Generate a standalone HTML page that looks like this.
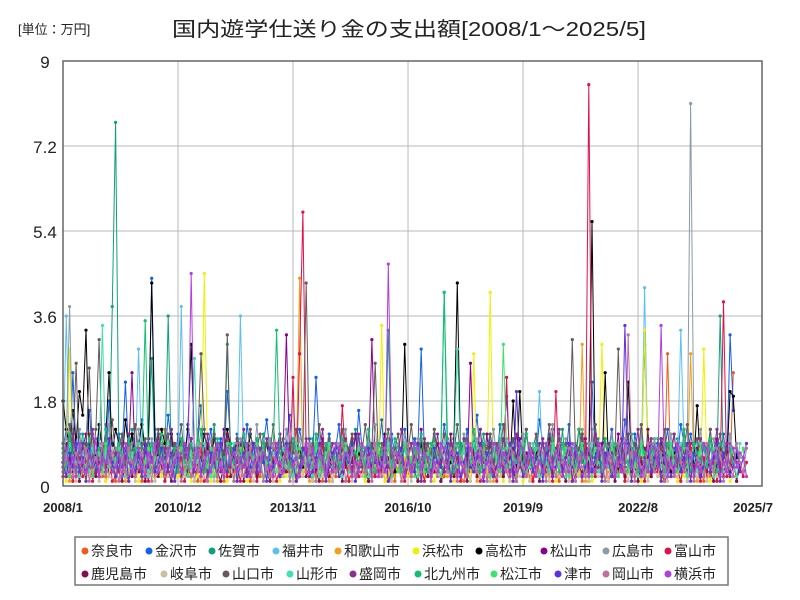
<!DOCTYPE html>
<html><head><meta charset="utf-8">
<style>
body{margin:0;background:#fff;width:800px;height:600px;overflow:hidden;font-family:"Liberation Sans","Noto Sans CJK JP",sans-serif}
svg{display:block}
</style></head><body>
<svg id="c" width="800" height="600" xmlns="http://www.w3.org/2000/svg">
<text x="18" y="34" font-size="13" fill="#222" font-family="Liberation Sans,Noto Sans CJK JP,sans-serif">[単位：万円]</text>
<text x="172" y="36" font-size="20" fill="#222" font-family="Liberation Sans,Noto Sans CJK JP,sans-serif" textLength="474" lengthAdjust="spacingAndGlyphs">国内遊学仕送り金の支出額[2008/1～2025/5]</text>
<g id="grid"></g><g id="series"></g><g id="axes"></g><g id="legend"></g>
</svg>
<script>
const xLabels=["2008/1","2010/12","2013/11","2016/10","2019/9","2022/8","2025/7"];
const yTicks=[0,1.8,3.6,5.4,7.2,9];
const names=["奈良市","金沢市","佐賀市","福井市","和歌山市","浜松市","高松市","松山市","広島市","富山市","鹿児島市","岐阜市","山口市","山形市","盛岡市","北九州市","松江市","津市","岡山市","横浜市"];
const colors=["#f05a1e","#1560e8","#10a078","#5bc0f0","#f0a020","#f0f000","#000000","#8a0090","#8a9aa8","#e0104a","#801050","#c8c0a0","#665a5a","#40e0b0","#8a3090","#10c070","#40e070","#6030e0","#c070a0","#b040e0"];
const s0=[.3,.5,.2,.8,.4,.1,.6,.3,1.1,.2,.4,.7,.2,.3,.9,.5,.1,.4,.6,.2,.3,.8,.2,.5,.1,.3,.7,.4,.2,.6,.3,1.2,.2,.4,.1,.5,.3,.8,.2,.4,.6,.1,.3,.5,.9,.2,.4,.3,.7,.1,.5,.2,.4,.8,.3,.2,.6,.1,.3,.5,.2,.9,.4,.3,.1,.6,.2,.4,.7,.3,.5,.1,.2,.8,.4,.3,.6,.2,.5,.1,.4,.3,.7,.2,.5,.9,.1,.3,.4,.6,.2,.3,.5,.1,.8,.2,.4,.6,.3,.2,.5,.1,.7,.3,.4,.2,.6,.3,.1,.5,.9,.2,.4,.3,.6,.1,.2,.5,.3,.8,.4,.2,.1,.6,.3,.5,.2,.4,.7,.1,.3,.2,.5,.8,.4,.3,.1,.6,.2,.4,.3,.5,.2,.1,.7,.3,.4,.6,.2,.5,.3,.1,.4,.8,.2,.3,.6,.4,.1,.5,.2,.3,.7,.4,.2,.6,.1,.3,.5,.2,.4,1.0,.3,.2,.5,.1,.4,.6,.3,.2,.7,.4,.1,.3,2.8,.2,.5,.4,.1,.6,.3,.2,.4,.5,.3,.1,.6,.2,.4,.3,.5,.2,.8,.3,2.4];
const s1=[.8,1.2,.5,2.4,.7,1.1,.4,.9,1.6,.6,.3,1.3,.8,.5,1.8,.9,.4,1.1,.7,2.2,.6,1.0,.5,.8,1.4,.7,.9,4.4,1.2,.5,.8,.6,1.5,.9,.4,1.1,.7,.5,1.3,.8,.6,.9,1.7,.5,.8,1.2,.4,.7,1.0,.6,2.0,.9,.5,1.1,.7,.4,1.3,.8,.6,1.0,.5,.9,1.4,.7,.4,.8,1.1,.6,.9,1.5,.5,.7,1.2,.8,.4,1.0,.6,2.3,.9,.5,.7,1.1,.6,.8,1.3,.4,.9,.7,1.0,.5,1.6,.8,.6,1.2,.4,.9,.7,1.4,.5,.8,1.1,.6,.9,.4,1.2,.7,.5,1.0,.8,2.9,.6,.9,.4,1.1,.7,.5,1.3,.8,.6,1.0,.4,.9,.7,1.2,.5,.8,1.5,.6,.9,.4,1.1,.7,.5,1.3,.8,1.9,.6,1.0,.4,.9,.7,1.2,.5,.8,.6,1.4,.9,.4,1.1,.7,.5,1.0,.8,.6,1.3,.4,.9,.7,1.1,.5,.8,2.2,.6,1.0,.4,.9,.7,1.2,.5,.8,.6,1.4,.9,.4,1.1,.7,.5,3.0,.8,.6,1.0,.4,.9,.7,1.2,.5,.8,.6,1.3,.9,.4,1.1,.7,.5,1.0,.8,.6,1.2,.4,.9,.7,1.1,.5,3.2,1.6];
const s2=[.4,.6,.3,.9,.5,.7,1.1,.4,.6,.8,.3,1.0,.5,.7,.4,3.8,7.7,.6,.4,.8,.5,1.2,.3,.7,.6,.4,.9,2.7,.5,.8,.3,.6,3.6,.4,.7,.5,.9,.3,.6,1.0,.4,.7,.5,.8,.3,.6,1.3,.4,.7,.5,3.0,.6,.4,.8,.5,.7,.3,.9,.6,.4,.7,1.1,.5,.3,.8,.6,.4,.7,.5,.9,.3,.6,.8,.4,.7,.5,1.0,.3,.6,.4,.8,.5,.7,.3,.9,.6,.4,.7,.5,1.2,.3,.6,.8,.4,.7,.5,.9,.3,.6,3.3,.4,.8,.5,.7,.3,.6,.9,.4,.7,.5,.8,.3,.6,1.0,.4,.7,4.1,.5,.8,.3,.6,.9,.4,.7,.5,.8,.3,.6,1.1,.4,.7,.5,.9,.3,.6,.8,.4,.7,.5,1.0,.3,.6,.4,.8,.5,.7,.3,.9,.6,.4,.7,.5,1.2,.3,.6,.8,.4,.7,.5,.9,.3,.6,1.0,.4,.8,.5,.7,.3,.6,.9,.4,.7,.5,.8,.3,.6,1.1,.4,.7,.5,.9,.3,.6,.8,.4,.7,.5,1.0,.3,.6,.4,.8,.5,.7,.3,.9,.6,.4,.7,.5,3.6,.3,.6,.8,.4];
const s3=[.6,3.6,.4,.9,.5,.3,.7,.4,1.0,.5,.3,.8,.6,.4,.7,.3,.5,.9,.4,.6,.3,.8,.5,2.9,.4,.7,.3,.6,.5,.9,.4,.3,.7,.5,.6,.4,3.8,.3,.7,.5,.8,.4,.6,.3,.9,.5,.4,.7,.3,.6,.5,.8,.4,.3,3.6,.5,.7,.4,.6,.3,.8,.5,.4,.9,.3,.6,.5,.7,.4,.3,.8,.5,.6,.4,.7,.3,.5,.9,.4,.6,.3,.8,.5,.4,.7,.3,.6,.5,1.0,.4,.3,.7,.5,.6,.4,.8,.3,.5,.9,.4,.6,.3,.7,.5,.4,.8,.3,.6,.5,.9,.4,.3,.7,.5,.6,.4,.8,.3,.5,1.1,.4,.6,.3,.7,.5,.4,.8,.3,.6,.5,.9,.4,.3,.7,.5,.6,.4,.8,.3,.5,1.0,.4,.6,.3,.7,2.0,.4,.8,.3,.6,.5,.9,.4,.3,.7,.5,.6,.4,.8,.3,.5,1.2,.4,.6,.3,.7,.5,.4,.8,.3,.6,.5,.9,.4,.3,.7,.5,4.2,.4,.8,.3,.5,1.0,.4,.6,.3,.7,.5,3.3,.8,.3,.6,.5,.9,.4,.3,.7,.5,.6,.4,.8,.3,.5,1.1,.4];
const s4=[.2,.4,.1,.6,.3,.2,.5,.1,.4,.3,.7,.2,.4,.1,.5,.3,.2,.6,.4,.1,.3,.5,.2,.4,.8,.1,.3,.5,.2,.6,.4,.1,.3,.2,.5,.4,.1,.7,.3,.2,.4,.5,.1,.3,.6,.2,.4,.1,.5,.3,.2,.8,.4,.1,.3,.5,.2,.4,.6,.1,.3,.2,.5,.4,.1,.7,.3,.2,.4,.5,.1,.3,4.4,.2,.4,.1,.5,.3,.2,.6,.4,.1,.3,.5,.2,.4,.7,.1,.3,.2,.5,.4,.1,.6,.3,.2,.4,.5,.1,.3,.8,.2,.4,.1,.5,.3,.2,.6,.4,.1,.3,.5,.2,.4,.7,.1,.3,.2,.5,.4,.1,.6,.3,.2,.4,.5,.1,.3,.9,.2,.4,.1,.5,.3,.2,.6,.4,.1,.3,.5,.2,.4,.7,.1,.3,.2,.5,.4,.1,.6,.3,.2,.4,.5,.1,.3,.8,.2,3.0,.1,.5,.3,.2,.6,.4,.1,.3,.5,.2,.4,.7,.1,.3,.2,.5,.4,.1,.6,.3,.2,.4,.5,.1,.3,.9,.2,.4,.1,.5,.3,.2,2.8,.4,.1,.3,.5,.2,.4,.7,.1,.3];
const s5=[.3,.1,2.9,.4,.2,.6,.3,.1,.5,.2,.4,.3,.7,.1,.2,.5,.3,.4,.1,.6,.2,.3,.5,.1,.4,.2,.8,.3,.1,.5,.2,.4,.3,.6,.1,.2,.5,.3,.4,.1,.7,.2,.3,4.5,.5,.1,.4,.2,.6,.3,.1,.5,.2,.4,.3,.8,.1,.2,.5,.3,.4,.1,.6,.2,.3,.5,.1,.4,.2,.7,.3,.1,.5,.2,.4,.3,.6,.1,.2,.5,.3,.4,.1,.8,.2,.3,.5,.1,.4,.2,.6,.3,.1,.5,.2,.4,.3,3.4,.1,.2,.5,.3,.4,.1,.6,.2,.3,.5,.1,.4,.2,.8,.3,.1,.5,.2,.4,.3,.6,.1,.2,.5,.3,.4,.1,2.8,.2,.3,.5,.1,4.1,.2,.6,.3,.1,.5,.2,.4,.3,.7,.1,.2,.5,.3,.4,.1,.6,.2,.3,.5,.1,.4,.2,.8,.3,.1,.5,.2,.4,.3,.6,.1,.2,.5,3.0,.4,.1,.7,.2,.3,.5,.1,.4,.2,.6,.3,.1,3.3,.2,.4,.3,.8,.1,.2,.5,.3,.4,.1,.6,.2,.3,.5,.1,.4,.2,2.9,.3,.1,.5,.2,.4,.3,.6,.1,.2];
const s6=[1.8,1.2,.8,1.6,.9,2.0,1.5,3.3,.7,1.1,.6,1.3,.8,1.0,2.4,.7,1.2,.9,.5,1.4,.8,1.1,.6,.9,1.3,.7,1.0,4.3,.8,.6,1.2,.9,.7,1.1,.5,.8,1.0,.6,1.2,3.0,.7,.9,.5,1.1,.8,.6,1.0,.7,.9,.5,1.2,.8,.6,1.0,.7,.9,.5,1.1,.8,.6,.4,.7,.9,.5,.8,.6,.4,.7,.5,.9,.3,.6,.8,.4,.7,.5,.6,.3,.8,.4,.5,.7,.3,.6,.4,.8,.5,.3,.6,.4,.7,.5,.3,.6,.4,.8,.3,.5,1.1,.4,.6,.3,.7,.5,3.0,.8,.3,.6,.5,.9,.4,.3,.7,.5,.6,.4,.8,.3,.5,1.0,4.3,.6,.3,.7,.5,.4,.8,.3,.6,.5,.9,.4,.3,.7,.5,.6,.4,1.8,.3,2.0,.5,.4,.6,.3,.7,.5,.4,.8,.3,.6,.5,.9,.4,.3,.7,.5,.6,1.2,.8,.3,.5,5.6,.4,.6,.3,2.4,.5,.4,.8,.3,.6,.5,2.2,.4,.3,.7,.5,.6,.4,.8,.3,.5,1.0,.4,.6,.3,.7,.5,.4,.8,.3,.6,.5,1.7,.4,.3,.7,.5,.6,.4,.8,.3,.5,2.0,1.9,.6];
const s7=[.5,.9,.3,1.2,.6,.4,.8,1.1,.3,.7,.5,.9,.4,1.3,.6,.3,.8,.5,1.0,.4,.7,2.4,.5,.3,.9,.6,.4,.8,.5,1.1,.3,.7,.4,.6,.9,.5,.3,.8,.6,1.0,.4,.7,.5,.3,.9,.6,.4,.8,.5,1.2,.3,.7,.4,.6,.9,.5,.3,.8,.6,1.0,.4,.7,.5,.3,.9,.6,.4,.8,3.2,.5,.3,.7,.4,.6,.9,.5,.3,.8,.6,1.0,.4,.7,.5,.3,.9,.6,.4,.8,.5,1.1,.3,.7,.4,.6,3.1,.5,.3,.8,.6,1.0,.4,.7,.5,.3,.9,.6,.4,.8,.5,1.2,.3,.7,.4,.6,.9,.5,.3,.8,.6,1.0,.4,.7,.5,.3,2.6,.6,.4,.8,.5,1.1,.3,.7,.4,.6,.9,.5,.3,.8,.6,1.0,.4,.7,.5,.3,.9,.6,.4,.8,.5,1.2,.3,.7,.4,.6,.9,.5,.3,.8,.6,1.0,.4,.7,.5,.3,.9,.6,.4,.8,.5,1.1,.3,.7,.4,.6,.9,.5,.3,.8,.6,1.0,.4,.7,.5,.3,.9,.6,.4,.8,.5,1.2,.3,.7,.4,.6,.9,.5,.3,.8,.6,1.0,.4,.7];
const s8=[.7,1.0,3.8,.6,.9,1.2,.5,.8,.4,1.1,.7,.5,.9,.6,1.3,.4,.8,.6,1.0,.5,.7,.9,.4,1.2,.6,.8,.5,1.0,.7,.4,.9,.6,1.1,.5,.8,.4,1.0,.7,.6,.9,.5,1.2,.4,.8,.6,1.0,.5,.7,.9,.4,1.1,.6,.8,.5,1.0,.7,.4,.9,.6,1.3,.5,.8,.4,1.0,.7,.6,.9,.5,1.2,.4,.8,.6,1.0,.5,.7,.9,.4,1.1,.6,.8,.5,1.0,.7,.4,.9,.6,1.2,.5,.8,.4,1.0,.7,.6,.9,.5,1.3,.4,.8,.6,1.0,.5,.7,.9,.4,1.1,.6,.8,.5,1.0,.7,.4,.9,.6,1.2,.5,.8,.4,1.0,.7,.6,.9,.5,1.1,.4,.8,.6,1.0,.5,.7,.9,.4,1.2,.6,.8,.5,1.0,.7,.4,.9,.6,1.1,.5,.8,.4,1.0,.7,.6,.9,.5,1.3,.4,.8,.6,1.0,.5,.7,.9,.4,1.2,.6,.8,.5,1.0,.7,.4,.9,.6,1.1,.5,.8,.4,1.0,.7,.6,.9,.5,1.2,.4,.8,.6,1.0,.5,.7,.9,.4,1.1,.6,.8,.5,1.0,.7,8.1,.9,.6,1.2,.5,.8,.4,1.0,.7,.6,.9,.5,1.1,.4];
const s9=[.2,.5,.3,.1,.4,.6,.2,.3,.7,.1,.4,.2,.5,.3,.8,.1,.2,.4,.6,.3,.1,.5,.2,.9,.3,.4,.1,.6,.2,.3,.5,.1,.4,.7,.2,.3,.6,.1,.4,.2,.5,.3,.8,.1,.2,.4,.6,.3,.1,.5,.2,.9,.3,.4,.1,.6,.2,.3,.5,.1,.4,.7,.2,.3,.6,.1,.4,.2,.5,.3,2.3,.1,2.8,5.8,.6,.3,.1,.5,.2,.9,.3,.4,.1,.6,.2,1.7,.5,.1,.4,.7,.2,.3,.6,.1,.4,.2,.5,.3,.8,.1,.2,.4,.6,.3,.1,.5,.2,.9,.3,.4,.1,.6,.2,.3,.5,.1,.4,.7,.2,.3,.6,.1,.4,.2,.5,.3,.8,.1,.2,.4,.6,.3,.1,.5,.2,2.3,.3,.4,.1,.6,.2,.3,.5,.1,.4,.7,.2,.3,.6,.1,2.0,.2,.5,.3,.8,.1,.2,.4,.6,.3,8.5,.5,.2,.9,.3,.4,.1,.6,.2,.3,.5,.1,.4,.7,.2,.3,.6,.1,.4,.2,.5,.3,.8,.1,.2,.4,.6,.3,.1,.5,.2,.9,.3,.4,.1,.6,.2,.3,.5,.1,.4,3.9,.2,.3,.6,.1,.4,.2,.5,.3,.8,.1,.2,.4];
const s10=[.4,.2,.6,.3,.8,.1,.5,.3,.4,.7,.2,.5,.3,1.0,.2,.4,.6,.3,.1,.5,.8,.2,.4,.3,.6,.1,.5,.3,.9,.2,.4,.6,.3,.1,.5,.7,.2,.4,.3,.6,.1,.5,.3,.8,.2,.4,.6,.3,.1,.5,1.1,.2,.4,.3,.6,.1,.5,.3,.9,.2,.4,.6,.3,.1,.5,.7,.2,.4,.3,.6,.1,.5,.3,.8,.2,.4,.6,.3,.1,.5,.9,.2,.4,.3,.6,.1,.5,.3,1.0,.2,.4,.6,.3,.1,.5,.7,.2,.4,.3,.6,.1,.5,.3,.8,.2,.4,.6,.3,.1,.5,.9,.2,.4,.3,.6,.1,.5,.3,1.1,.2,.4,.6,.3,.1,.5,.7,.2,.4,.3,.6,.1,.5,.3,.8,.2,.4,.6,.3,.1,.5,.9,.2,.4,.3,.6,.1,.5,.3,1.0,.2,.4,.6,.3,.1,.5,.7,.2,.4,.3,.6,.1,.5,.3,.8,.2,.4,.6,.3,.1,.5,.9,.2,.4,.3,.6,.1,.5,.3,1.2,.2,.4,.6,.3,.1,.5,.7,.2,.4,.3,.6,.1,.5,.3,.8,.2,.4,.6,.3,.1,.5,.9,.2,.4,.3,.6,.1,.5];
const s11=[.3,.6,.2,.4,.1,.5,.3,.7,.2,.4,.6,.1,.3,.5,.2,.8,.4,.1,.3,.6,.2,.5,.1,.4,.7,.3,.2,.5,.1,.6,.3,.4,.2,.8,.1,.5,.3,.2,.6,.4,.1,.7,.3,.2,.5,.4,.1,.6,.3,.2,.8,.4,.1,.5,.3,.2,.6,.4,.1,.7,.3,.2,.5,.4,.1,.6,.3,.2,.9,.4,.1,.5,.3,.2,.6,.4,.1,.7,.3,.2,.5,.4,.1,.6,.3,.2,.8,.4,.1,.5,.3,.2,.6,.4,.1,.7,.3,.2,.5,.4,.1,.6,.3,.2,.9,.4,.1,.5,.3,.2,.6,.4,.1,.7,.3,.2,.5,.4,.1,.6,.3,.2,.8,.4,.1,.5,.3,.2,.6,.4,.1,.7,.3,.2,.5,.4,.1,.6,.3,.2,.9,.4,.1,.5,.3,.2,.6,.4,.1,.7,.3,.2,.5,.4,.1,.6,.3,.2,.8,.4,.1,.5,.3,.2,.6,.4,.1,.7,.3,.2,.5,.4,.1,.6,.3,.2,.9,.4,.1,.5,.3,.2,.6,.4,.1,.7,.3,.2,.5,.4,.1,.6,.3,.2,.8,.4,.1,.5,.3,.2,.6,.4];
const s12=[.9,.5,1.3,.7,2.6,.4,1.0,.8,2.5,.6,1.2,3.1,.5,.9,.7,1.4,.6,.8,1.1,.5,.9,.7,1.3,.6,.8,1.0,.5,.9,.7,1.2,.6,.8,1.1,.5,.9,.7,1.3,.6,.8,1.0,.5,.9,2.8,1.2,.6,.8,1.1,.5,.9,.7,3.2,.6,.8,1.0,.5,.9,.7,1.2,.6,.8,1.1,.5,.9,.7,1.3,.6,.8,1.0,.5,.9,.7,1.2,.6,.8,4.3,.5,.9,.7,1.3,.6,.8,1.0,.5,.9,.7,1.2,.6,.8,1.1,.5,.9,.7,1.3,.6,.8,2.6,.5,.9,.7,1.2,.6,.8,1.1,.5,.9,.7,1.3,.6,.8,1.0,.5,.9,.7,1.2,.6,.8,1.1,.5,.9,.7,1.3,.6,.8,1.0,.5,.9,.7,1.2,.6,.8,1.1,.5,.9,.7,1.3,.6,.8,1.0,.5,.9,.7,1.2,.6,.8,1.1,.5,.9,.7,1.3,.6,.8,1.0,.5,.9,.7,3.1,.6,.8,1.1,.5,.9,.7,1.3,.6,.8,1.0,.5,.9,.7,2.9,.6,.8,1.1,.5,.9,.7,1.3,.6,.8,1.0,.5,.9,.7,1.2,.6,.8,1.1,.5,.9,.7,1.3,.6,.8,1.0,.5,.9,.7,1.2,.6,.8,1.1,.5,.9];
const s13=[.6,.3,.9,.4,.7,.2,1.0,.5,.3,.8,.4,.6,3.4,.5,.9,.3,.6,.4,.8,.2,.5,.7,.3,.9,.4,.6,.2,.8,.5,.3,.7,.4,.9,.6,.2,.5,.8,.3,.6,.4,2.7,.5,.3,.9,.6,.2,.7,.4,.8,.5,.3,.6,.9,.2,.4,.7,.5,.3,.8,.6,.4,.9,.2,.5,.7,.3,.6,.8,.4,.5,.2,.9,.3,.6,.7,.4,.5,.8,.2,.6,.3,.9,.4,.7,.5,.2,.8,.6,.3,.4,.9,.5,.7,.2,.6,.8,.3,.4,.5,.9,.2,.7,.6,.3,.8,.4,.5,.9,.2,.6,.7,.3,.4,.8,.5,.2,.9,.6,.3,.7,2.9,.5,.8,.2,.6,.9,.3,.4,.7,.5,.2,.8,.6,.3,.9,.4,.5,.7,.2,.6,.8,.3,.4,.9,.5,.2,.7,.6,.3,.8,.4,.5,.9,.2,.6,.7,.3,.4,.8,.5,.2,.9,.6,.3,.7,.4,.5,.8,.2,.6,.9,.3,.4,.7,.5,.2,.8,.6,.3,.9,.4,.5,.7,.2,.6,.8,.3,.4,.9,.5,.2,.7,.6,.3,.8,.4,.5,.9,.2,.6,.7,.3,.4,.8,.5,.2,.9];
const s14=[.5,.8,.3,1.1,.6,.4,.9,.5,.7,1.2,.3,.6,.8,.4,1.0,.5,.7,.3,.9,.6,1.1,.4,.8,.5,.3,.7,1.0,.6,.4,.9,.5,.8,.3,1.2,.6,.4,.7,.9,.5,1.0,.3,.8,.6,.4,1.1,.5,.7,.9,.3,.6,1.0,.4,.8,.5,.7,1.2,.3,.6,.9,.4,.8,.5,1.0,.7,.3,.6,1.1,.4,.8,.5,.9,.7,.3,.6,1.0,.4,.8,.5,.7,1.2,.3,.6,.9,.4,.8,.5,1.0,.7,.3,.6,1.1,.4,.8,.5,.9,.7,.3,.6,1.0,.4,.8,.5,.7,1.2,.3,.6,.9,.4,.8,.5,1.0,.7,.3,.6,1.1,.4,.8,.5,.9,.7,.3,.6,1.0,.4,.8,.5,.7,1.2,.3,.6,.9,.4,.8,.5,1.0,.7,.3,.6,1.1,.4,.8,.5,.9,.7,.3,.6,1.0,.4,.8,.5,.7,1.2,.3,.6,.9,.4,.8,.5,1.0,.7,.3,.6,1.1,.4,.8,.5,.9,.7,.3,.6,1.0,.4,.8,.5,.7,1.2,.3,.6,.9,.4,.8,.5,1.0,.7,.3,.6,1.1,.4,.8,.5,.9,.7,.3,.6,1.0,.4,.8,.5,.7,1.2,.3,.6,.9,.4,.8,.5];
const s15=[.8,.4,1.1,.6,.3,.9,.5,.7,1.0,.4,.6,.8,.3,1.2,.5,.7,.4,.9,.6,.3,1.0,.5,.8,.4,.7,3.5,.6,.9,.3,.5,1.1,.4,.7,.6,.8,.3,1.0,.5,.4,.9,.7,.6,1.2,.3,.5,.8,.4,1.0,.7,.6,.3,.9,.5,.8,.4,1.1,.6,.7,.3,1.0,.5,.9,.4,.6,.8,3.3,.7,.5,.9,.4,1.0,.6,.3,.8,.7,.5,.4,1.1,.6,.3,.9,.7,.5,.8,.4,1.0,.6,.3,.9,.7,.5,.8,.4,1.2,.6,.3,.9,.7,.5,.8,.4,1.0,.6,.3,.9,.7,.5,.8,.4,1.1,.6,.3,.9,.7,.5,.8,4.1,1.0,.6,.3,.9,.7,.5,.8,.4,1.2,.6,.3,.9,.7,.5,.8,.4,1.0,.6,.3,.9,.7,.5,.8,.4,1.1,.6,.3,.9,.7,.5,.8,.4,1.0,.6,.3,.9,.7,.5,.8,.4,1.2,.6,.3,.9,.7,.5,.8,.4,1.0,.6,.3,.9,.7,.5,.8,.4,1.1,.6,.3,.9,.7,.5,.8,.4,1.0,.6,.3,.9,.7,.5,.8,.4,1.2,.6,.3,.9,.7,.5,.8,.4,1.0,.6,.3,.9,.7,.5,.8,.4];
const s16=[.4,.7,.2,.5,.9,.3,.6,.4,.8,.2,.5,.7,.3,.9,.4,.6,.2,.8,.5,.3,.7,.4,.6,.9,.2,.5,.8,.3,.6,.4,.7,.2,.9,.5,.3,.6,.8,.4,.2,.7,.5,.9,.3,.6,.4,.8,.2,.5,.7,.3,.9,.6,.4,.2,.8,.5,.7,.3,.6,.9,.4,.2,.5,.8,.3,.7,.6,.4,.9,.2,.5,.3,.8,.7,.4,.6,.2,.9,.5,.3,.7,.8,.4,.6,.2,.5,.9,.3,.7,.4,.8,.6,.2,.5,.3,.9,.7,.4,.6,.8,.2,.5,.3,.7,.9,.4,.6,.2,.8,.5,.3,.7,.4,.9,.6,.2,.5,.8,.3,.7,.4,.6,.9,.2,.5,.3,.8,.7,.4,.6,.2,.9,.5,.3,3.0,.8,.4,.6,.2,.5,.9,.3,.7,.4,.8,.6,.2,.5,.3,.9,.7,.4,.6,.8,.2,.5,.3,.7,.9,.4,.6,.2,.8,.5,.3,.7,.4,.9,.6,.2,.5,.8,.3,.7,.4,.6,.9,.2,.5,.3,.8,.7,.4,.6,.2,.9,.5,.3,.7,.8,.4,.6,.2,.5,.9,.3,.7,.4,.8,.6,.2,.5,.3,.9,.7,.4,.6,.8,.2];
const s17=[.5,.2,.7,.4,.9,.3,.6,.1,.8,.4,.5,.2,.7,.3,1.0,.5,.2,.6,.4,.8,.1,.5,.3,.7,.2,.9,.4,.6,.3,.5,.8,.2,.4,.7,.1,.6,.3,.9,.5,.2,.4,.8,.3,.6,.1,.7,.5,.2,.9,.4,.3,.6,.8,.1,.5,.7,.2,.4,.9,.3,.6,.5,.1,.8,.4,.7,.2,.3,.9,.6,.5,.1,.4,.8,.7,.2,.3,.6,.9,.5,.1,.4,.7,.8,.2,.3,.6,.5,.9,.1,.4,.7,.3,.8,.2,.6,.5,.4,.9,.1,.3,.7,.6,.8,.2,.5,.4,.3,.9,.1,.7,.6,.2,.8,.5,.4,.3,.9,.1,.6,.7,.2,.5,.8,.4,.3,.6,.9,.1,.7,.5,.2,.4,.8,.3,.6,.9,.1,2.0,.5,.2,.4,.8,.3,.6,.9,.1,.7,.5,.2,.4,.8,.3,.6,.9,.1,.7,.5,.2,.4,.8,.3,.6,.9,.1,.7,.5,.2,.4,.8,.3,3.4,.9,.1,.7,.5,.2,.4,.8,.3,.6,.9,.1,.7,.5,.2,.4,.8,.3,.6,.9,.1,.7,.5,.2,.4,.8,.3,.6,.9,.1,.7,.5,.2,.4,.8,.3,.6,.9,.1,.7,.5,.2,3.1];
const s18=[.3,.6,.4,.2,.7,.5,.3,.8,.1,.4,.6,.3,.9,.2,.5,.7,.4,.1,.6,.3,.8,.5,.2,.4,.7,.3,.6,.1,.9,.4,.5,.2,.7,.3,.6,.8,.1,.4,.5,.2,.7,.3,.9,.6,.1,.4,.8,.2,.5,.3,.7,.6,.1,.9,.4,.2,.5,.8,.3,.6,.7,.1,.4,.2,.9,.5,.3,.6,.8,.1,.4,.7,.2,.5,.3,.9,.6,.1,.8,.4,.2,.7,.5,.3,.6,.9,.1,.4,.8,.2,.5,.7,.3,.6,.1,.9,.4,.2,.8,.5,.3,.7,.6,.1,.4,.9,.2,.5,.8,.3,.7,.6,.1,.4,.2,.9,.5,.3,.8,.7,.1,.6,.4,.2,.9,.5,.3,.8,.7,.1,.6,.4,.2,.9,.5,.3,.8,.7,.1,.6,.4,.2,.9,.5,.3,.8,.7,.1,.6,.4,.2,.9,.5,.3,.8,.7,.1,.6,.4,.2,.9,.5,.3,.8,.7,.1,.6,.4,.2,.9,.5,.3,3.2,.7,.1,.6,.4,.2,.9,.5,.3,.8,.7,.1,.6,.4,.2,.9,.5,.3,.8,.7,.1,.6,.4,.2,.9,.5,.3,.8,.7,.1,.6,.4,.2,.9,.5,.3,.8,.7];
const s19=[.4,.8,.3,.6,.2,.9,.5,.3,.7,.4,1.0,.2,.6,.5,.8,.3,.4,.7,.2,.9,.5,.3,.6,.8,.4,.2,.7,.5,.9,.3,.6,.4,.8,.2,.5,.7,.3,.9,.6,4.5,.4,.8,.2,.5,.7,.3,.6,.9,.4,.2,.8,.5,.7,.3,.6,.4,.9,.2,.5,.8,.3,.7,.6,.4,.2,.9,.5,.3,.8,.7,.4,.6,.2,.5,.9,.3,.8,.4,.7,.6,.2,.5,.3,.9,.8,.4,.7,.6,.2,.5,.3,.9,.8,.4,.7,.6,.2,.5,.3,4.7,.8,.4,.7,.6,.2,.5,.3,.9,.8,.4,.7,.6,.2,.5,.3,.9,.8,.4,.7,.6,.2,.5,.3,.9,.8,.4,.7,.6,.2,.5,.3,.9,.8,.4,.7,.6,.2,.5,.3,.9,.8,.4,.7,.6,.2,.5,.3,.9,.8,.4,.7,.6,.2,.5,.3,.9,.8,.4,.7,.6,.2,.5,.3,.9,.8,.4,.7,.6,.2,.5,.3,.9,.8,.4,.7,.6,.2,.5,.3,.9,.8,.4,3.4,.6,.2,.5,.3,.9,.8,.4,.7,.6,.2,.5,.3,.9,.8,.4,.7,.6,.2,.5,.3,.9,.8,.4,.7,.6,.2,.5,.3,.9,.8];
const series=[s0,s1,s2,s3,s4,s5,s6,s7,s8,s9,s10,s11,s12,s13,s14,s15,s16,s17,s18,s19];

const NS="http://www.w3.org/2000/svg";
const L=63,R=762,T=61,B=486,YMAX=9,MPX=3.286,NMONTH=209;
const xPos=i=>L+i*MPX;
const yPos=v=>B-(v/YMAX)*(B-T);
function mk(tag,attrs,parent){const e=document.createElementNS(NS,tag);for(const k in attrs)e.setAttribute(k,attrs[k]);parent.appendChild(e);return e;}
const grid=document.getElementById('grid'),axes=document.getElementById('axes'),sg=document.getElementById('series'),lg=document.getElementById('legend');
const F='Liberation Sans,Noto Sans CJK JP,sans-serif';
yTicks.forEach(v=>{
  const ln=mk('line',{x1:L,x2:R,y1:yPos(v),y2:yPos(v),stroke:'#b8b8b8','stroke-width':1},grid);
  
  
  const t=mk('text',{x:L-18,y:yPos(v)+7,'text-anchor':'middle','font-size':17,fill:'#222','font-family':F},axes);
  t.textContent=String(v);
  
  
});
xLabels.forEach((lab,k)=>{
  const x=xPos(k*35);
  if(k>0&&k<6){const ln=mk('line',{x1:x,x2:x,y1:T,y2:B,stroke:'#b8b8b8','stroke-width':1},grid);
  
  }
  const t=mk('text',{x:x,y:512,'text-anchor':'middle','font-size':13,'font-weight':'bold',fill:'#222','font-family':F},axes);
  t.textContent=lab;
  
  
});
const frame=mk('rect',{x:L,y:T,width:R-L,height:B-T,fill:'none',stroke:'#666','stroke-width':1.5},axes);


series.forEach((d0,si)=>{
  const d=d0.slice(0,NMONTH);
  const g=mk('g',{},sg);
  
  
  const pts=d.map((v,i)=>xPos(i).toFixed(1)+','+yPos(v).toFixed(1)).join(' ');
  const pl=mk('polyline',{points:pts,fill:'none',stroke:colors[si],'stroke-width':1},g);
  
  
  d.forEach((v,i)=>{const c=mk('circle',{cx:xPos(i),cy:yPos(v),r:1.6,fill:colors[si]},g);
    
    });
});
const box=mk('rect',{x:75,y:537,width:653,height:48,fill:'#fff',stroke:'#777','stroke-width':1.5},lg);


const dotX=[[85,149,212,276,338,416,479,544,606,668],[85,164,226,290,353,418,494,558,606,668]];
names.forEach((n,i)=>{
  const row=Math.floor(i/10),col=i%10;
  const x=dotX[row][col];
  const y=551+row*23;
  const g=mk('g',{},lg);
  
  
  mk('circle',{cx:x,cy:y,r:3.5,fill:colors[i]},g);
  const t=mk('text',{x:x+6,y:y+5,'font-size':14,fill:'#222','font-family':F,textLength:n.length*14,lengthAdjust:'spacingAndGlyphs'},g);
  t.textContent=n;
});
</script>
</body></html>
